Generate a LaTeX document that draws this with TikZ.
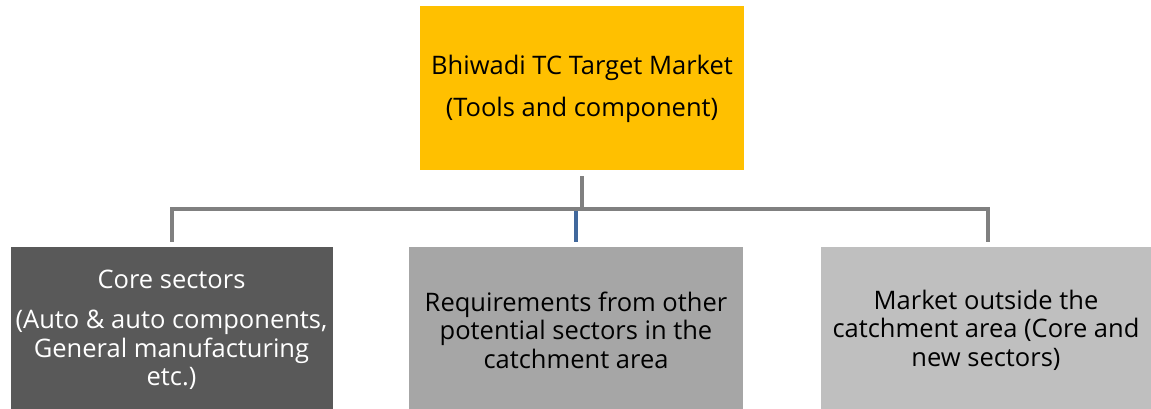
\documentclass[tikz,border=0pt]{standalone}
\usepackage{fontspec}
\setmainfont{Open Sans}
\definecolor{gold}{HTML}{FFC000}
\definecolor{darkbox}{HTML}{595959}
\definecolor{midbox}{HTML}{A6A6A6}
\definecolor{lightbox}{HTML}{BFBFBF}
\definecolor{linkgray}{HTML}{808080}
\definecolor{linkblue}{HTML}{41689C}
\begin{document}
\begin{tikzpicture}[x=1pt,y=-1pt,
  box/.style={rectangle, inner sep=0pt, outer sep=0pt, anchor=center},
  label/.style={align=center, font=\fontsize{25.5}{28.5}\selectfont, inner sep=0pt},
  conn/.style={draw=linkgray, line width=4pt},
  connblue/.style={draw=linkblue, line width=3.5pt}]
  \useasboundingbox (0,0) rectangle (1151,408);
  \begin{scope}
  \clip (0,0) rectangle (1151,408);
  % boxes
  \node[box, fill=gold, minimum width=324pt, minimum height=164pt] (top) at (582,88) {};
  \node[box, fill=darkbox, minimum width=322pt, minimum height=170pt] (left) at (171.5,332) {};
  \node[box, fill=midbox, minimum width=334pt, minimum height=170pt] (mid) at (576,332) {};
  \node[box, fill=lightbox, minimum width=334pt, minimum height=170pt] (right) at (988,332) {};
  % texts
  \node[label] (toptext) at (582,89) {Bhiwadi TC Target Market\\[13pt](Tools and component)};
  \node[label, text=white] (lefttext) at (171.5,330) {Core sectors\\[11.5pt](Auto \& auto components,\\General manufacturing\\etc.)};
  \node[label] (midtext) at (576,330) {Requirements from other\\potential sectors in the\\catchment area};
  \node[label] (righttext) at (986,330) {Market outside the\\catchment area (Core and\\new sectors)};
  % connectors
  \coordinate (hub) at (582,209);
  \draw[conn, shorten <=6pt] (top.south) -- (hub);
  \draw[conn, shorten >=5pt] (hub) -| (left.north);
  \draw[conn, shorten >=5pt] (hub) -| (right.north);
  \draw[connblue, shorten <=2pt, shorten >=5pt] (mid.north |- hub) -- (mid.north);
  \end{scope}
\end{tikzpicture}
\end{document}
